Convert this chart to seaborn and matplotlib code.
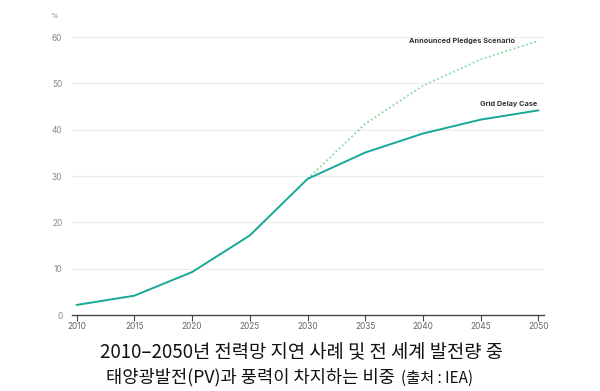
import matplotlib
matplotlib.use("Agg")
import matplotlib.pyplot as plt
import pandas as pd
import seaborn as sns

years = [2010, 2015, 2020, 2025, 2030, 2035, 2040, 2045, 2050]
grid_delay = [2.2, 4.2, 9.3, 17.2, 29.4, 35.1, 39.2, 42.2, 44.2]
aps_years = [2030, 2035, 2040, 2045, 2050]
aps = [29.4, 41.3, 49.5, 55.2, 59.2]
yticks = [0, 10, 20, 30, 40, 50, 60]

sns.set_theme(style="white")
plt.rcParams["font.family"] = ["Noto Sans CJK KR", "DejaVu Sans"]

df_gd = pd.DataFrame({"year": years, "share": grid_delay})
df_aps = pd.DataFrame({"year": aps_years, "share": aps})

fig = plt.figure(figsize=(6, 3.91), dpi=100)
ax = fig.add_axes([0.12, 0.194, 0.787, 0.711])

for y in yticks[1:]:
    ax.axhline(y, color="#ebebeb", lw=0.8, zorder=0)

sns.lineplot(data=df_aps, x="year", y="share", ax=ax, color="#86dba0",
             lw=1.3, linestyle=(0, (1, 1.4)))
sns.lineplot(data=df_gd, x="year", y="share", ax=ax, color="#17a898", lw=1.4)

ax.set_xlim(2009.6, 2050.5)
ax.set_ylim(0, 60)
ax.set_xticks(years)
ax.set_yticks(yticks)
ax.set_xlabel("")
ax.set_ylabel("")
for s in ["top", "right", "left"]:
    ax.spines[s].set_visible(False)
ax.spines["bottom"].set_color("#444444")
ax.spines["bottom"].set_linewidth(1.0)
ax.tick_params(axis="x", bottom=True, length=4, width=0.8, color="#444444",
               labelsize=6, labelcolor="#666666", pad=1)
ax.tick_params(axis="y", left=False, length=0, labelsize=6,
               labelcolor="#888888", pad=7)
for lbl in ax.get_xticklabels() + ax.get_yticklabels():
    lbl.set_family("Inter")

ax.text(2048.0, 58.6, "Announced Pledges Scenario", ha="right", va="bottom",
        fontsize=5.3, fontweight="bold", color="#333333", family="Inter")
ax.text(2049.9, 44.9, "Grid Delay Case", ha="right", va="bottom",
        fontsize=5.3, fontweight="bold", color="#333333", family="Inter")
fig.text(0.083, 0.96, "%", fontsize=5.5, color="#888888", ha="left",
         va="center", family="Inter")

fig.text(0.502, 0.098, "2010–2050년 전력망 지연 사례 및 전 세계 발전량 중",
         ha="center", va="center", fontsize=13.5, color="#111111")
fig.text(0.658, 0.035, "태양광발전(PV)과 풍력이 차지하는 비중",
         ha="right", va="center", fontsize=12.7, color="#111111")
fig.text(0.668, 0.033, "(출처 : IEA)", ha="left", va="center",
         fontsize=11, color="#111111")

fig.savefig("out.png", dpi=100)
